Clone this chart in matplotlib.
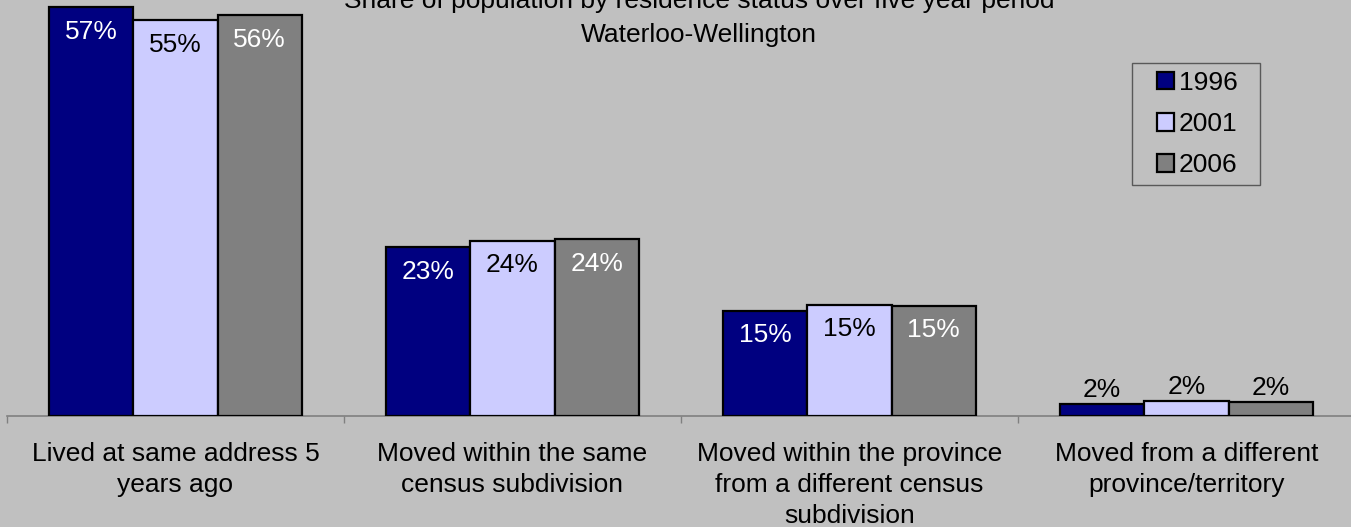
import matplotlib
matplotlib.use("Agg")
import matplotlib.pyplot as plt
import matplotlib.patches as mpatches
from matplotlib.legend_handler import HandlerBase
import numpy as np

plt.rcParams['font.family'] = ['Liberation Sans', 'DejaVu Sans']

categories = ["Lived at same address 5\nyears ago",
              "Moved within the same\ncensus subdivision",
              "Moved within the province\nfrom a different census\nsubdivision",
              "Moved from a different\nprovince/territory"]
years = ["1996", "2001", "2006"]
v1996 = [56.7, 23.4, 14.6, 1.6]
v2001 = [54.9, 24.3, 15.4, 2.1]
v2006 = [55.6, 24.5, 15.3, 1.9]
title_lines = ["Share of population by residence status over five year period",
               "Waterloo-Wellington"]

series = [v1996, v2001, v2006]
colors = ["#000080", "#CCCCFF", "#808080"]
label_colors = ["white", "black", "white"]

W, H = 1351, 527
fig = plt.figure(figsize=(W / 100, H / 100), dpi=100)
bg = "#C0C0C0"
fig.patch.set_facecolor(bg)

base_px = 415.7
px_per_unit = 7.2
ax = fig.add_axes([7 / W, (H - base_px) / H, 1348 / W, base_px / H])
ax.set_facecolor(bg)
ax.set_xlim(-0.5, 3.5)
ax.set_ylim(0, base_px / px_per_unit)

x = np.arange(len(categories))
bw = 0.25
FS = 19
for i, (vals, c, lc) in enumerate(zip(series, colors, label_colors)):
    pos = x + (i - 1) * bw
    ax.bar(pos, vals, width=bw, color=c, edgecolor="black",
           linewidth=1.6, label=years[i], zorder=3)
    for xp, v in zip(pos, vals):
        if v > 5:
            ax.annotate(f"{v:.0f}%", (xp, v), xytext=(0, -17.5), textcoords="offset points",
                        ha="center", va="center", color=lc, fontsize=FS, zorder=4)
        else:
            ax.annotate(f"{v:.0f}%", (xp, v), xytext=(0, 10), textcoords="offset points",
                        ha="center", va="center", color="black", fontsize=FS, zorder=4)

for s in ["left", "right", "top"]:
    ax.spines[s].set_visible(False)
ax.spines["bottom"].set_color("#808080")
ax.spines["bottom"].set_linewidth(1.2)
ax.set_yticks([])

ax.set_xticks(np.arange(-0.5, 4.0, 1.0))
ax.set_xticklabels([])
ax.tick_params(axis="x", which="major", direction="out", length=5, color="#808080", width=1)
ax.set_xticks(x, minor=True)
ax.set_xticklabels(categories, minor=True, fontsize=FS, linespacing=1.36)
ax.tick_params(axis="x", which="minor", length=0, pad=19)

fig.text(699 / W, 1 - 8.3 / H, title_lines[0], ha="center", va="baseline", fontsize=FS)
fig.text(699 / W, 1 - 41.7 / H, title_lines[1], ha="center", va="baseline", fontsize=FS)


class RightSquare(HandlerBase):
    def create_artists(self, legend, orig_handle, xdescent, ydescent,
                       width, height, fontsize, trans):
        s = height
        r = mpatches.Rectangle((width - xdescent - s, -ydescent), s, s,
                               facecolor=orig_handle.get_facecolor(),
                               edgecolor="black", linewidth=1.6, transform=trans)
        return [r]


proxies = [mpatches.Patch(facecolor=c, edgecolor="black") for c in colors]
leg = ax.legend(proxies, years, loc="upper left",
                bbox_to_anchor=(1132 / W, 1 - 186 / H, 128 / W, 123 / H),
                bbox_transform=fig.transFigure, mode="expand",
                handler_map={mpatches.Patch: RightSquare()},
                fontsize=FS, frameon=True, fancybox=False, shadow=False,
                handlelength=1.29, handleheight=0.64, handletextpad=0.19,
                labelspacing=0.65, borderpad=0.3, borderaxespad=0)
leg.get_frame().set_facecolor(bg)
leg.get_frame().set_edgecolor("#404040")
leg.get_frame().set_linewidth(1.0)

fig.savefig("out.png", dpi=100, facecolor=bg)
